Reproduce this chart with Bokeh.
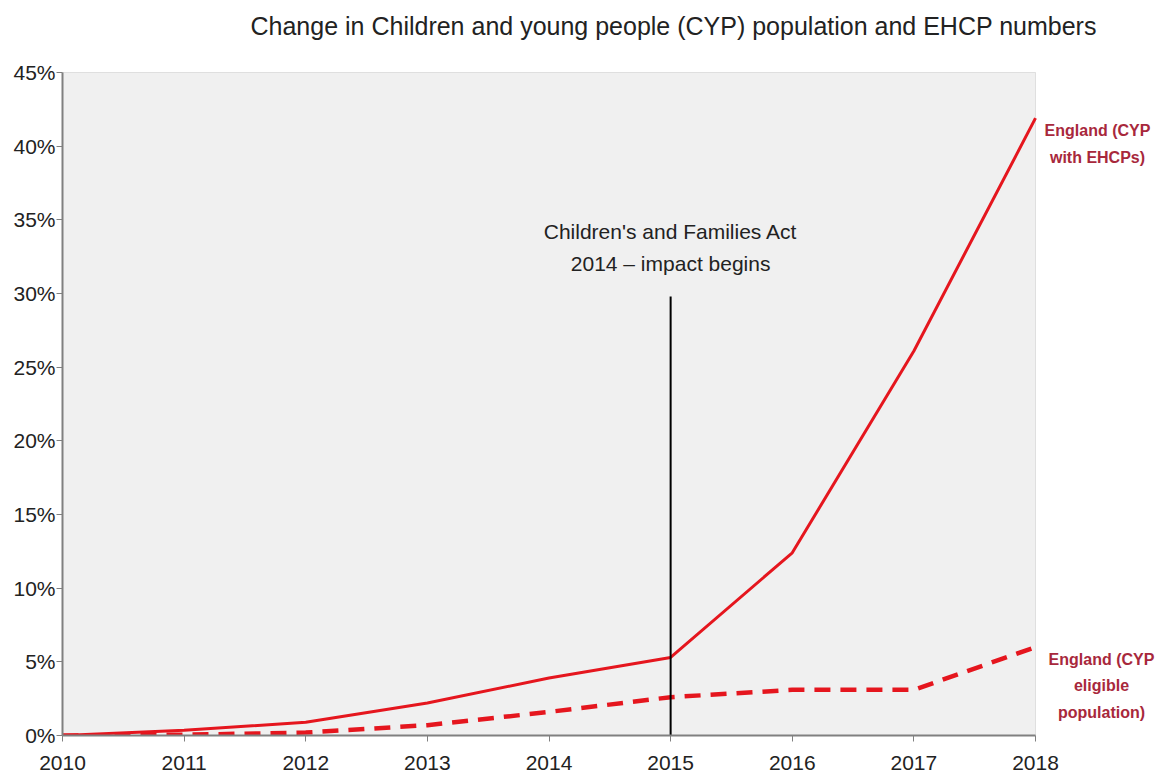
from bokeh.plotting import figure
from bokeh.models import Label, FixedTicker, CustomJSTickFormatter, Range1d, BoxAnnotation
from bokeh.embed import file_html
from bokeh.resources import INLINE

years = [2010, 2011, 2012, 2013, 2014, 2015, 2016, 2017, 2018]
ehcp_change = [0.0, 0.35, 0.9, 2.2, 3.9, 5.3, 12.4, 26.1, 41.9]
eligible_change = [0.0, 0.05, 0.2, 0.7, 1.6, 2.6, 3.1, 3.1, 6.0]
y_ticks = [0, 5, 10, 15, 20, 25, 30, 35, 40, 45]
title_text = "Change in Children and young people (CYP) population and EHCP numbers"
act_year = 2015
act_line_top = 29.8
act_text = ["Children's and Families Act", "2014 \u2013 impact begins"]
label_ehcp = "England (CYP\nwith EHCPs)"
label_eligible = "England (CYP\neligible\npopulation)"

FONT = "Liberation Sans"
RED = "#e5161e"
LABEL_RED = "#a8283c"

x_start, x_last = years[0], years[-1]
y_top = y_ticks[-1]
# the frame extends past the last year and above the top tick so that the
# end labels and the title sit inside it; the plotted area is the grey box
x_end = x_last + 123 / 121.625
y_end = y_top + 72 / (663 / 45)

p = figure(width=1160, height=778, output_backend="svg", toolbar_location=None,
           x_range=Range1d(x_start, x_end), y_range=Range1d(0, y_end),
           min_border_left=62, min_border_top=0, min_border_right=2, min_border_bottom=43)
p.background_fill_color = "white"
p.border_fill_color = "white"
p.outline_line_color = None
p.xgrid.visible = False
p.ygrid.visible = False

p.add_layout(BoxAnnotation(left=x_start, right=x_last, bottom=0, top=y_top,
                           fill_color="#f0f0f0", fill_alpha=1.0,
                           line_color="#a8a8a8", line_width=1, level="underlay"))

for ax in (p.xaxis[0], p.yaxis[0]):
    ax.axis_line_color = "#808080"
    ax.axis_line_width = 2
    ax.major_tick_line_color = "#808080"
    ax.major_tick_line_width = 1
    ax.major_tick_out = 6
    ax.major_tick_in = 0
    ax.minor_tick_line_color = None
    ax.major_label_text_font = FONT
    ax.major_label_text_font_size = "21px"
    ax.major_label_text_color = "#222222"

p.xaxis[0].ticker = FixedTicker(ticks=years)
p.xaxis[0].bounds = (x_start, x_last)
p.xaxis[0].major_label_standoff = 14
p.yaxis[0].ticker = FixedTicker(ticks=y_ticks)
p.yaxis[0].bounds = (0, y_top)
p.yaxis[0].formatter = CustomJSTickFormatter(code="return tick + '%';")
p.yaxis[0].major_label_standoff = 1

p.line(years, eligible_change, line_color=RED, line_width=4.5, line_dash="16 10")
p.line(years, ehcp_change, line_color=RED, line_width=3)

p.segment(x0=[act_year], y0=[0], x1=[act_year], y1=[act_line_top], line_color="black", line_width=2)

p.add_layout(Label(x=x_start, y=y_top, x_offset=188, y_offset=47, text=title_text,
                   text_align="left", text_baseline="middle", text_font=FONT,
                   text_font_size="25px", text_color="#222222"))

p.add_layout(Label(x=act_year, y=act_line_top, y_offset=33, text=act_text[1], text_align="center",
                   text_baseline="middle", text_font=FONT, text_font_size="21px",
                   text_color="#222222"))
p.add_layout(Label(x=act_year, y=act_line_top, y_offset=65, text=act_text[0], text_align="center",
                   text_baseline="middle", text_font=FONT, text_font_size="21px",
                   text_color="#222222"))

p.add_layout(Label(x=x_last, y=ehcp_change[-1], x_offset=62, y_offset=-4, text=label_ehcp,
                   text_align="center", text_baseline="top", text_font=FONT,
                   text_font_size="16px", text_font_style="bold", text_color=LABEL_RED,
                   text_line_height=1.6))
p.add_layout(Label(x=x_last, y=eligible_change[-1], x_offset=66, y_offset=-4, text=label_eligible,
                   text_align="center", text_baseline="top", text_font=FONT,
                   text_font_size="16px", text_font_style="bold", text_color=LABEL_RED,
                   text_line_height=1.55))

open("out.html", "w").write(file_html(p, INLINE))
